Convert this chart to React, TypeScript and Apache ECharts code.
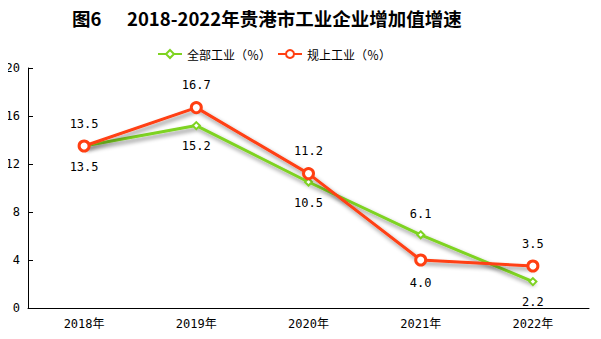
import React, { useEffect, useRef } from "react";
import * as echarts from "echarts";

const categories = ["2018年", "2019年", "2020年", "2021年", "2022年"];
const allIndustry = [13.5, 15.2, 10.5, 6.1, 2.2];
const aboveScale = [13.5, 16.7, 11.2, 4.0, 3.5];
const allLabelPos = ["bottom", "bottom", "bottom", "top", "bottom"];
const aboveLabelPos = ["top", "top", "top", "bottom", "top"];
const yTicks = { min: 0, max: 20, interval: 4 };
const titleLeft = "图6";
const titleRight = "2018-2022年贵港市工业企业增加值增速";
const seriesNames = ["全部工业（％）", "规上工业（％）"];

const GREEN = "#7ED321";
const RED = "#FF3F12";
const FONT = "'DejaVu Sans Mono', 'Noto Sans CJK SC', monospace";

export default function App() {
  const ref = useRef<HTMLDivElement>(null);
  useEffect(() => {
    if (!ref.current) return;
    const chart = echarts.init(ref.current, undefined, { renderer: "svg" });
    const shadow = {
      shadowColor: "rgba(0,0,0,0.45)",
      shadowBlur: 4,
      shadowOffsetX: 2,
      shadowOffsetY: 3,
    };
    const titleFont = "bold 18.5px 'Noto Sans CJK SC', sans-serif";
    chart.setOption({
      animation: false,
      backgroundColor: "#fff",
      graphic: [
        {
          type: "text",
          left: 72,
          top: 9,
          style: { text: titleLeft, font: titleFont, fill: "#000" },
        },
        {
          type: "text",
          left: 127,
          top: 9,
          style: { text: titleRight, font: titleFont, fill: "#000" },
        },
      ],
      legend: {
        left: 152,
        top: 43,
        itemWidth: 24,
        itemHeight: 10,
        itemGap: 6,
        textStyle: { fontSize: 12, color: "#000", fontFamily: "'Noto Sans CJK SC', sans-serif" },
        data: seriesNames,
      },
      grid: { left: 28, right: 12, top: 68, bottom: 31 },
      xAxis: {
        type: "category",
        data: categories,
        boundaryGap: true,
        axisLine: { lineStyle: { color: "#000", width: 1 } },
        axisTick: { inside: true, length: 4, lineStyle: { color: "#000" } },
        axisLabel: { color: "#000", fontSize: 12, margin: 10, fontFamily: FONT },
      },
      yAxis: {
        type: "value",
        min: yTicks.min,
        max: yTicks.max,
        interval: yTicks.interval,
        splitLine: { show: false },
        axisLine: { show: true, lineStyle: { color: "#000", width: 1 } },
        axisTick: { show: true, inside: true, length: 5, lineStyle: { color: "#000" } },
        axisLabel: { color: "#000", fontSize: 12, margin: 8, fontFamily: FONT },
      },
      series: [
        {
          name: seriesNames[0],
          type: "line",
          data: allIndustry.map((v, i) => ({
            value: v,
            label: { position: allLabelPos[i] },
          })),
          symbol: "diamond",
          symbolSize: 7,
          itemStyle: { color: "#fff", borderColor: GREEN, borderWidth: 2 },
          lineStyle: { color: GREEN, width: 3, ...shadow },
          label: {
            show: true,
            distance: 10,
            color: "#000",
            fontSize: 12,
            fontFamily: FONT,
            formatter: (p: any) => Number(p.value).toFixed(1),
          },
          z: 2,
        },
        {
          name: seriesNames[1],
          type: "line",
          data: aboveScale.map((v, i) => ({
            value: v,
            label: { position: aboveLabelPos[i] },
          })),
          symbol: "circle",
          symbolSize: 10,
          itemStyle: { color: "#fff", borderColor: RED, borderWidth: 3 },
          lineStyle: { color: RED, width: 3, ...shadow },
          label: {
            show: true,
            distance: 10,
            color: "#000",
            fontSize: 12,
            fontFamily: FONT,
            formatter: (p: any) => Number(p.value).toFixed(1),
          },
          z: 3,
        },
      ],
    });
    return () => chart.dispose();
  }, []);
  return <div ref={ref} style={{ width: 601, height: 339, margin: -8 }} />;
}
